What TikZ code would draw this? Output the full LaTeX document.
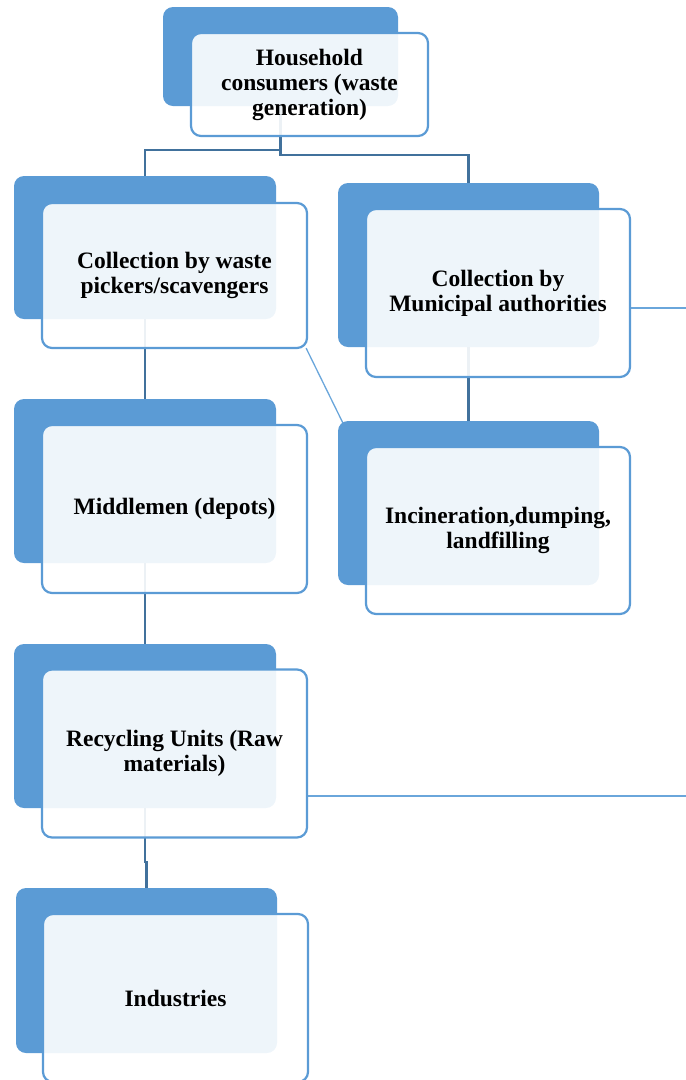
\documentclass[tikz,border=0pt]{standalone}
\usepackage{fontspec}
\setmainfont{Liberation Serif}
\usetikzlibrary{backgrounds,calc}
\definecolor{boxblue}{HTML}{5B9BD5}
\definecolor{linkblue}{HTML}{41719C}
\definecolor{sideblue}{HTML}{6AA6DB}
\tikzset{
    backbox/.style={fill=boxblue, rounded corners=10pt, inner sep=0pt,
        minimum width=262pt, minimum height=164pt},
    frontbox/.style={draw=boxblue, line width=2.2pt, fill=white, fill opacity=0.9,
        text opacity=1, rounded corners=10pt, inner sep=0pt, align=center,
        minimum width=265pt, minimum height=168pt,
        font=\bfseries\fontsize{23.5}{25}\selectfont},
    tree/.style={draw=linkblue, line width=2.4pt},
    sideline/.style={draw=sideblue, line width=1.3pt},
}

\begin{document}
\begin{tikzpicture}[x=1pt, y=-1pt]
    \useasboundingbox (0,0) rectangle (686,1080);

    % Waste generation
    \node[backbox, minimum width=235pt, minimum height=99pt] (b1) at (280.5,56.5) {};
    \node[frontbox, minimum width=237pt, minimum height=103pt] (f1) at (309.5,84.5)
        {Household\\consumers (waste\\generation)};

    % Informal chain (left)
    \node[backbox, minimum height=143pt] (b2) at (145,247.5) {};
    \node[frontbox, minimum height=145pt] (f2) at (174.5,275.5)
        {Collection by waste\\pickers/scavengers};
    \node[backbox] (b5) at (145,481) {};
    \node[frontbox] (f5) at (174.5,509) {Middlemen (depots)};
    \node[backbox] (b6) at (145,726) {};
    \node[frontbox] (f6) at (174.5,753.5) {Recycling Units (Raw\\materials)};
    \node[backbox, minimum width=261pt, minimum height=165pt] (b7) at (146.5,970.5) {};
    \node[frontbox] (f7) at (175.5,998) {Industries};

    % Municipal chain (right)
    \node[backbox, minimum width=261pt] (b3) at (468.5,265) {};
    \node[frontbox, minimum width=264pt] (f3) at (498,293)
        {Collection by\\Municipal authorities};
    \node[backbox, minimum width=261pt] (b4) at (468.5,503) {};
    \node[frontbox, minimum width=264pt, minimum height=167pt] (f4) at (498,530.5)
        {Incineration,dumping,\\landfilling};

    \coordinate (edge3) at (686,308);
    \coordinate (edge6) at (686,796);

    % Connectors
    \begin{pgfonlayer}{background}
        \draw[tree] (b1.south) -- (b1.south |- 0,150) -| (b2.north);
        \draw[tree] (b1.south) -- (b1.south |- 0,155) -| (b3.north);
        \draw[tree] (b2.south) -- (b5.north);
        \draw[tree] (b5.south) -- (b6.north);
        \draw[tree] (b6.south) -- (b6.south |- 0,862) -| (b7.north);
        \draw[tree] (b3.south) -- (b4.north);
        \draw[sideline] ($(f2.south east)+(-2,-1)$) -- ($(b4.north west)+(6,4)$);
        \draw[sideline] (edge3 -| f3.east) -- (edge3);
        \draw[sideline] (edge6 -| f6.east) -- (edge6);
    \end{pgfonlayer}
\end{tikzpicture}
\end{document}
